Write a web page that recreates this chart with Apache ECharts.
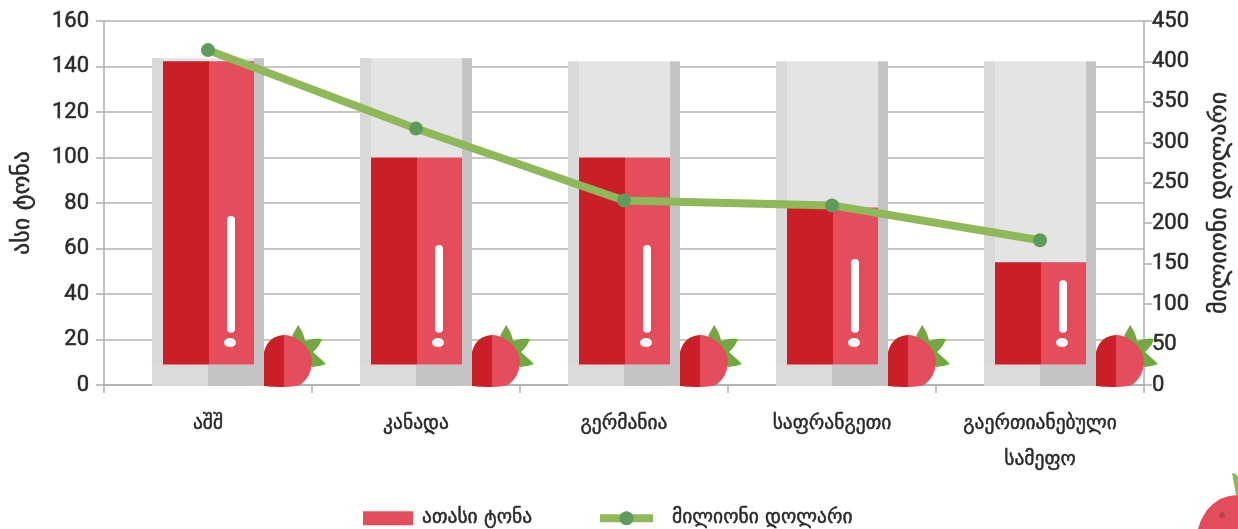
<!DOCTYPE html>
<html><head><meta charset="utf-8">
<style>html,body{margin:0;padding:0;background:#fff}#c{width:1238px;height:529px}</style>
<script src="https://cdn.jsdelivr.net/npm/echarts@6/dist/echarts.min.js"></script>
</head><body><div id="c"></div>
<script>
const categories = ['აშშ','კანადა','გერმანია','საფრანგეთი','გაერთიანებული\nსამეფო'];
const tons = [142.3,100,100,78,54];
const usd = [414,317,228,222,179];
const panelTop = [143.6,143.6,142.2,142.2,142.2];
const markTop = [74.3,61.5,61.5,55.4,46];
const barBase = 9;
const markBase = 23;
const leftTicks = {min:0,max:160,interval:20};
const rightTicks = {min:0,max:450,interval:50};
const tonsName = 'ათასი ტონა', usdName = 'მილიონი დოლარი';
const leftTitle = 'ასი ტონა', rightTitle = 'მილიონი დოლარი';

const numFont = '"Liberation Sans Narrow", Roboto, sans-serif';
const geoFont = '"DejaVu Sans", sans-serif';
const ink = '#2b2a29', axisGrey = '#aeaeb0', gridGrey = '#b5b5b5';
const dark = '#cb1f28', light = '#e44d5b', leaf = '#71a83f';

const leafPath = 'M84 -49 L90 -60 Q96 -52 97 -44 L105 -46 Q110 -47 114 -46 Q111 -38 105 -33 Q112 -27 118 -21 Q111 -18 104 -18 Z';
const bodyDark = 'M56 1 L56 -33 Q60 -49 76 -50 L76 2 Q64 2 56 1 Z';
const bodyLight = 'M76 -50 Q86 -50 96 -41 Q104 -32 104 -22 Q103 -8 92 0 Q84 2 76 2 Z';

function renderColumn(params, api){
  const i = api.value(0);
  const [cx, y0] = api.coord([i, 0]);
  const yTop = api.coord([i, api.value(2)])[1];
  const yBar = api.coord([i, api.value(1)])[1];
  const yBase = api.coord([i, barBase])[1];
  const yMark = api.coord([i, api.value(3)])[1];
  const yMarkEnd = api.coord([i, markBase])[1];
  const r = (x,y,w,h,fill) => ({type:'rect',shape:{x,y,width:w,height:h},style:{fill}});
  const strawberry = {type:'group',x:cx,y:y0,children:[
    {type:'path',shape:{pathData:leafPath},style:{fill:leaf}},
    {type:'path',shape:{pathData:bodyDark},style:{fill:dark}},
    {type:'path',shape:{pathData:bodyLight},style:{fill:light}}
  ]};
  return {type:'group',children:[
    r(cx-56,yTop,112,y0+1-yTop,'#e4e4e4'),
    r(cx-56,yTop,11,y0+1-yTop,'#d9d9d9'),
    r(cx+46,yTop,10,y0+1-yTop,'#c4c4c4'),
    r(cx-56,yBase,56,y0+1-yBase,'#dcdbda'),
    r(cx,yBase,56,y0+1-yBase,'#c4c4c4'),
    r(cx-45,yBar,46,yBase-yBar,dark),
    r(cx+1,yBar,45,yBase-yBar,light),
    {type:'rect',shape:{x:cx+19,y:yMark,width:8,height:yMarkEnd-yMark,r:4},style:{fill:'#fff'}},
    {type:'path',shape:{pathData:'M-6 0 A6 4.5 0 1 1 6 0 A6 4.5 0 1 1 -6 0 Z'},x:cx+22,y:y0-42.5,style:{fill:'#fff'}},
    strawberry
  ]};
}

const heavy = {textBorderColor:ink,textBorderWidth:0.5};
const chart = echarts.init(document.getElementById('c'),null,{renderer:'canvas'});
chart.setOption({
  animation:false,
  backgroundColor:'#fff',
  grid:{left:104,right:94,top:21,bottom:144,containLabel:false,outerBoundsMode:'none'},
  legend:[
    {left:363,top:508,padding:0,itemWidth:50,itemHeight:14,
     data:[{name:tonsName,icon:'rect'}],
     textStyle:Object.assign({fontFamily:geoFont,fontSize:19.5,color:ink,padding:[0,0,0,4]},heavy)},
    {left:596,top:508,padding:0,itemWidth:53,itemHeight:17.5,
     lineStyle:{width:8},
     data:[{name:usdName}],
     textStyle:Object.assign({fontFamily:geoFont,fontSize:19.5,color:ink,padding:[0,0,0,14]},heavy)}
  ],
  xAxis:{
    type:'category',data:categories,boundaryGap:true,
    axisLine:{lineStyle:{color:axisGrey,width:1.5}},
    axisTick:{show:true,alignWithLabel:false,length:8,lineStyle:{color:axisGrey,width:1.5}},
    axisLabel:Object.assign({fontFamily:geoFont,fontSize:19.5,color:ink,margin:21,lineHeight:36,interval:0},heavy),
    splitLine:{show:false}
  },
  yAxis:[
    Object.assign({type:'value',position:'left',name:leftTitle,nameLocation:'middle',nameGap:69,nameRotate:90,
      nameTextStyle:Object.assign({fontFamily:geoFont,fontSize:24,color:ink},heavy),
      axisLine:{show:true,lineStyle:{color:axisGrey,width:1.5}},
      axisTick:{show:true,length:8,lineStyle:{color:axisGrey,width:1.5}},
      axisLabel:Object.assign({fontFamily:numFont,fontSize:22,color:ink,margin:15,padding:[2,0,0,0]},heavy),
      splitLine:{show:true,lineStyle:{color:gridGrey,width:1.5}}},leftTicks),
    Object.assign({type:'value',position:'right',name:rightTitle,nameLocation:'middle',nameGap:64,nameRotate:90,
      nameTextStyle:Object.assign({fontFamily:geoFont,fontSize:24,color:ink},heavy),
      axisLine:{show:true,lineStyle:{color:axisGrey,width:1.5}},
      axisTick:{show:true,length:8,lineStyle:{color:axisGrey,width:1.5}},
      axisLabel:Object.assign({fontFamily:numFont,fontSize:22,color:ink,margin:8,padding:[2,0,0,0]},heavy),
      splitLine:{show:false}},rightTicks)
  ],
  series:[
    {name:tonsName,type:'custom',renderItem:renderColumn,clip:false,yAxisIndex:0,
     itemStyle:{color:light},
     encode:{x:0,y:1},
     data:tons.map((v,i)=>[i,v,panelTop[i],markTop[i]])},
    {name:usdName,type:'line',yAxisIndex:1,data:usd,symbol:'circle',symbolSize:14,showSymbol:true,
     lineStyle:{color:'#8fb859',width:8},itemStyle:{color:'#5f9c5b'},z:5}
  ],
  graphic:[
    {type:'polygon',shape:{points:[[1232,473],[1236,474],[1238,477],[1238,495],[1236,495]]},style:{fill:'#8fb859'}},
    {type:'polygon',shape:{points:[[1198,529],[1201,520],[1207,510],[1213,504],[1220,499],[1229,496],[1238,495],[1238,529]]},style:{fill:light}},
    {type:'circle',shape:{cx:1222,cy:515,r:3},style:{fill:'#b9434c'}}
  ]
});
</script></body></html>
